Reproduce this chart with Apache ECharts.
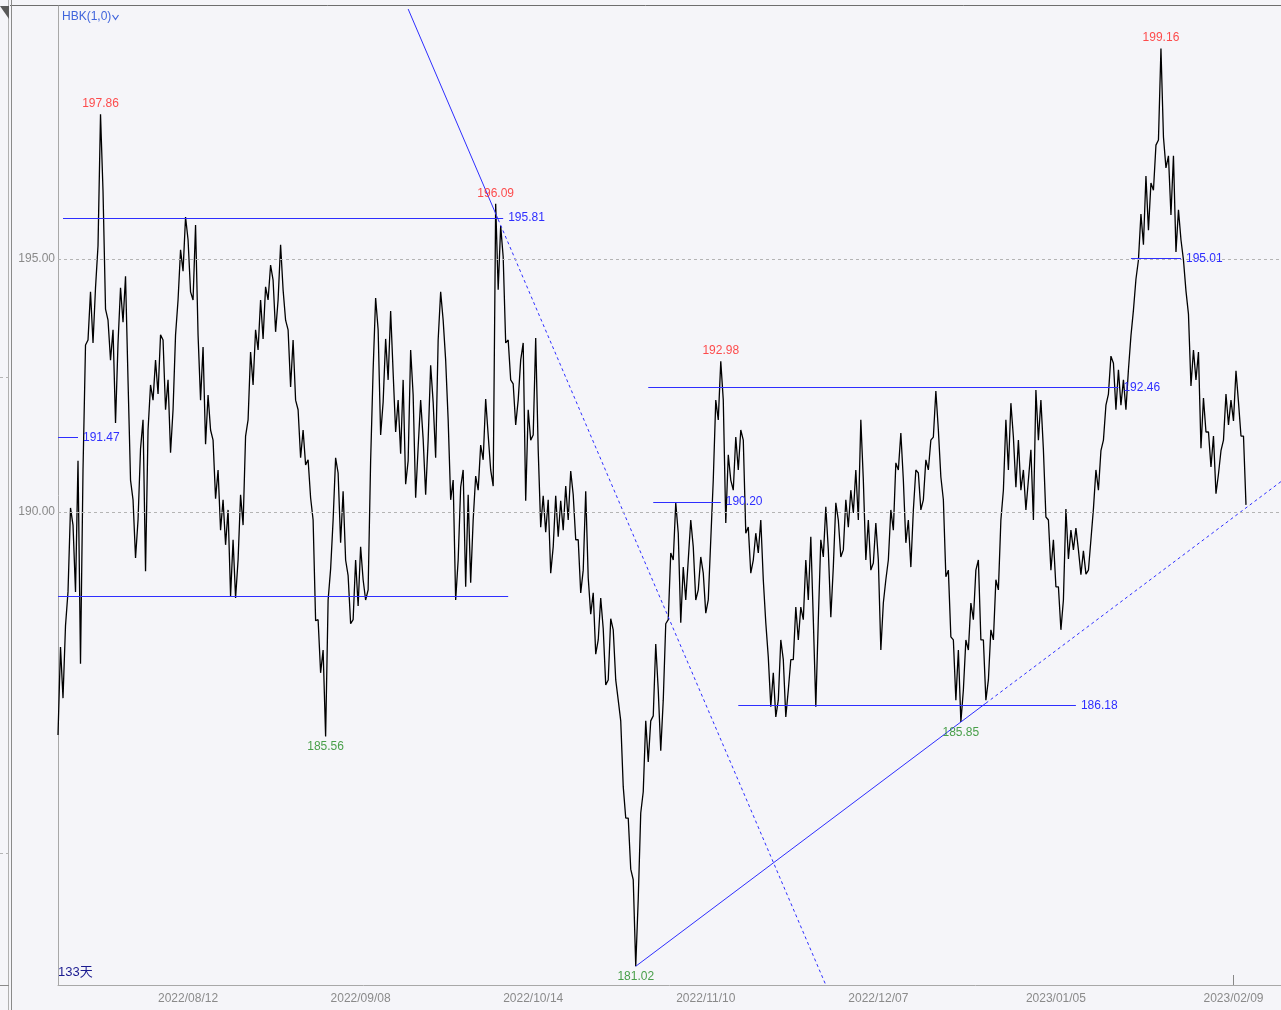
<!DOCTYPE html>
<html>
<head>
<meta charset="utf-8">
<script src="https://cdn.jsdelivr.net/npm/echarts@6/dist/echarts.min.js"></script>
<style>
html,body{margin:0;padding:0;background:#f5f5f9;}
#c{width:1281px;height:1010px;}
</style>
</head>
<body>
<div id="c"></div>
<script>
// ---- data ----
// per-column high / low of the intraday price trace
const colHigh = [
187.33,187.75,190.08,189.74,191.01,193.30,194.35,194.43,197.86,196.34,
193.79,193.60,194.43,194.66,192.60,190.24,191.25,191.82,192.51,193.00,
193.50,193.40,192.61,193.50,195.18,195.83,195.38,195.67,193.50,193.26,
192.31,191.42,190.83,190.24,190.04,189.45,190.34,191.50,193.16,193.60,
194.19,194.45,194.88,194.58,195.28,194.39,193.60,193.40,192.02,191.62,
191.03,189.84,187.87,187.27,188.87,191.07,190.77,190.41,188.74,189.05,
189.31,188.66,191.01,194.23,193.60,193.42,193.97,192.75,192.21,192.61,
193.20,192.31,192.21,191.44,192.90,192.17,194.35,193.79,191.82,190.63,
190.49,190.83,190.34,190.71,191.32,192.23,191.52,196.09,195.65,195.04,
193.40,192.53,193.00,193.34,192.02,193.44,191.23,190.32,190.24,190.32,
190.22,190.51,190.81,190.34,189.45,190.41,188.70,188.40,188.30,187.69,
187.89,187.67,186.28,184.57,183.95,182.73,184.05,185.87,185.87,187.39,
186.48,187.79,189.19,190.18,189.58,188.91,189.84,189.31,189.11,188.79,
189.45,192.21,192.98,192.21,191.13,191.48,191.62,191.42,189.70,189.58,
189.84,188.66,187.13,186.82,187.47,187.08,187.08,188.12,188.12,189.05,
189.51,187.87,189.45,190.10,189.25,190.18,189.84,190.24,190.43,190.83,
191.82,190.63,189.84,189.78,189.05,188.66,190.04,190.97,191.56,190.63,
189.84,190.83,190.77,191.03,191.42,192.39,191.62,190.24,188.85,187.47,
187.27,187.47,188.20,188.85,189.05,187.47,187.67,188.66,189.84,191.82,
192.15,191.48,191.42,190.83,191.23,192.41,192.21,191.23,189.84,189.45,
188.52,190.06,189.64,189.68,189.25,189.23,189.45,190.83,191.21,192.11,
193.08,192.94,192.81,192.61,193.48,194.60,195.89,196.64,196.50,197.25,
199.16,197.41,197.04,197.04,195.97,194.98,193.91,193.20,193.16,192.25,
191.58,191.50,191.21,192.33,192.21,192.79,192.17,191.50
];
const colLow = [
185.59,186.32,188.42,188.42,187.00,190.83,193.40,193.34,195.26,194.01,
193.00,191.76,193.34,193.75,190.63,189.09,189.84,188.83,191.62,192.21,
192.33,192.02,191.17,192.02,194.19,194.76,194.35,194.19,192.21,191.34,
191.62,190.26,189.64,189.35,188.34,188.30,189.05,189.74,191.82,192.51,
193.20,193.42,194.19,193.56,194.19,193.79,192.47,192.21,191.07,190.93,
190.28,187.85,186.82,185.56,188.26,189.84,189.39,189.05,187.79,187.87,
188.14,188.26,188.46,192.81,191.52,192.17,192.61,191.58,191.15,190.55,
191.01,190.28,191.28,190.34,191.42,191.07,193.40,193.00,190.24,188.26,
189.05,188.52,188.60,189.84,190.43,191.03,190.83,190.51,194.39,193.34,
192.61,191.72,192.21,190.22,191.42,191.52,189.70,189.60,188.79,189.31,
189.51,189.64,189.84,189.45,188.40,188.85,187.98,187.19,187.47,186.58,
186.68,186.68,185.87,183.95,182.94,181.02,182.35,184.47,185.06,185.97,
185.28,186.28,187.87,189.05,187.81,188.26,189.05,188.26,188.46,188.00,
188.26,190.63,191.82,189.78,190.63,190.43,190.83,189.58,188.79,189.05,
189.19,187.81,186.15,185.95,186.28,185.95,186.48,187.08,187.47,187.87,
188.26,186.15,187.87,189.11,187.92,188.91,189.11,189.25,189.70,189.98,
189.84,189.05,188.85,188.99,187.27,188.20,189.05,189.64,190.83,189.39,
188.91,190.04,190.04,190.24,190.83,191.48,190.69,188.72,187.53,186.28,
185.85,186.48,187.27,187.87,187.47,186.28,186.68,187.47,188.46,190.43,
190.83,190.49,190.43,190.04,190.63,189.84,191.42,189.90,188.85,188.52,
187.67,188.26,189.07,189.25,188.76,188.77,188.85,190.06,190.43,191.42,
192.33,192.02,192.11,192.02,192.81,193.99,194.98,195.28,195.57,196.36,
197.35,196.80,195.87,195.14,195.38,194.37,192.49,192.61,191.26,191.58,
190.89,190.36,190.75,191.42,191.72,191.80,191.50,190.14
];
const SLOTS = 490;
const tickIndex = [52, 121, 190, 259, 328, 399, 470];
const tickLabels = ['2022/08/12','2022/09/08','2022/10/14','2022/11/10','2022/12/07','2023/01/05','2023/02/09'];
const yLabelValues = [190, 195];
const highMarks = [197.86, 196.09, 192.98, 199.16];
const lowMarks = [185.56, 181.02, 185.85];
// horizontal level lines: value, start index, end index, labelled?
const levelValues = [195.81, 188.33, 191.47, 192.46, 190.20, 186.18, 195.01];
const levelFrom   = [2, 0, 0, 236, 238, 272, 429];
const levelTo     = [178, 180, 8, 424, 265, 407, 449];
const levelLabel  = [true, false, true, true, true, true, true];
// trend lines: [index, value]
const downStart = [140, 199.94], downEnd = [307, 180.65], downSolidTo = 176;
const upStart = [231, 181.02], upBreak = [371, 186.22], upEnd = [489, 190.60];

// ---- build ----
const categories = new Array(SLOTS).fill('');
tickIndex.forEach((i, n) => categories[i] = tickLabels[n]);

const zig = [];
let prevMid = null;
for (let k = 0; k < colHigh.length; k++) {
  const h = colHigh[k], l = colLow[k], m = (h + l) / 2;
  if (prevMid === null || m >= prevMid) zig.push(l, h); else zig.push(h, l);
  prevMid = m;
}

const FONT = "'Liberation Sans','Arial','Noto Sans CJK SC',sans-serif";
const FS = 12;
const BLUE = '#2e2eff';
const BLUE_TXT = '#2e2eff';

function lerp(a, b, x) { return a[1] + (b[1] - a[1]) * (x - a[0]) / (b[0] - a[0]); }
const downMid = [downSolidTo, lerp(downStart, downEnd, downSolidTo)];

const gridMarks = yLabelValues.map(v => ({
  yAxis: v, lineStyle: { type: [3, 3], color: '#b4b4b4', width: 1 }, label: { show: false }
}));
const levelMarks = levelValues.map((v, i) => ([
  { coord: [levelFrom[i], v], lineStyle: { color: BLUE, width: 1, type: 'solid' },
    label: { show: levelLabel[i], position: 'end', distance: 5, formatter: v.toFixed(2),
      color: BLUE_TXT, fontFamily: FONT, fontSize: FS } },
  { coord: [levelTo[i], v] }
]));

const series = [{
  type: 'line', data: zig, showSymbol: false, symbol: 'none', color: '#000',
  lineStyle: { color: '#000', width: 1.3 }, z: 2,
  markLine: {
    silent: true, symbol: 'none', animation: false, z: 4,
    data: gridMarks.concat(levelMarks)
  }
}];

[[downStart, downMid, 'solid'], [downMid, downEnd, [3, 3]],
 [upStart, upBreak, 'solid'], [upBreak, upEnd, [3, 3]]].forEach(s => {
  series.push({ type: 'line', data: [s[0], s[1]], symbol: 'none', z: 3,
    color: BLUE, lineStyle: { color: BLUE, width: 1, type: s[2] } });
});

series.push({
  type: 'scatter', symbolSize: 1, itemStyle: { color: 'rgba(0,0,0,0)' }, z: 5,
  data: highMarks.map(v => [zig.indexOf(v), v]),
  label: { show: true, position: 'top', distance: 4, color: '#ff2020',
    fontFamily: FONT, fontSize: FS, formatter: p => p.value[1].toFixed(2) }
});
series.push({
  type: 'scatter', symbolSize: 1, itemStyle: { color: 'rgba(0,0,0,0)' }, z: 5,
  data: lowMarks.map(v => [zig.indexOf(v), v]),
  label: { show: true, position: 'bottom', distance: 4, color: '#1e8a1e',
    fontFamily: FONT, fontSize: FS, formatter: p => p.value[1].toFixed(2) }
});

const chart = echarts.init(document.getElementById('c'), null, { renderer: 'canvas' });
chart.setOption({
  backgroundColor: '#f5f5f9',
  animation: false,
  grid: { left: 58, right: 0, top: 6, bottom: 25, containLabel: false },
  xAxis: {
    type: 'category', data: categories, boundaryGap: false,
    axisLine: { lineStyle: { color: '#a8a8a8', width: 1 } },
    axisTick: { show: true, inside: true, length: 10, interval: (i) => i === tickIndex[tickIndex.length - 1],
      lineStyle: { color: '#888' } },
    axisLabel: { interval: (i, v) => v !== '', color: '#8a8a8a', fontFamily: FONT, fontSize: FS, margin: 8 },
    splitLine: { show: false }
  },
  yAxis: {
    type: 'value', min: 180.65, max: 200.0, position: 'left',
    axisLine: { show: true, lineStyle: { color: '#a8a8a8', width: 1 } },
    axisTick: { show: false },
    splitLine: { show: false },
    axisLabel: { customValues: yLabelValues, formatter: v => v.toFixed(2), color: '#8a8a8a',
      fontFamily: FONT, fontSize: FS, margin: 3 }
  },
  graphic: [
    { type: 'line', shape: { x1: 10, y1: 5.5, x2: 1281, y2: 5.5 }, style: { stroke: '#6e6e6e', lineWidth: 1 } },
    { type: 'line', shape: { x1: 8.5, y1: 0, x2: 8.5, y2: 1010 }, style: { stroke: '#b0b0b0', lineWidth: 1 } },
    { type: 'line', shape: { x1: 11.5, y1: 0, x2: 11.5, y2: 1010 }, style: { stroke: '#8a8a8a', lineWidth: 1 } },
    { type: 'line', shape: { x1: 0, y1: 985.5, x2: 9, y2: 985.5 }, style: { stroke: '#8a8a8a', lineWidth: 1 } },
    { type: 'line', shape: { x1: 0, y1: 377.5, x2: 9, y2: 377.5 }, style: { stroke: '#b4b4b4', lineWidth: 1, lineDash: [3, 3] } },
    { type: 'line', shape: { x1: 0, y1: 853.5, x2: 9, y2: 853.5 }, style: { stroke: '#b4b4b4', lineWidth: 1, lineDash: [3, 3] } },
    { type: 'polygon', shape: { points: [[0, 6], [9, 6], [9, 19]] }, style: { fill: '#5a5a5a' } },
    { type: 'text', left: 62, top: 11, style: { text: 'HBK(1,0)', fill: '#3f64dc', font: "12px " + FONT } },
    { type: 'polyline', shape: { points: [[112.5, 15], [115.5, 19.5], [118.5, 15]] }, style: { stroke: '#3f64dc', lineWidth: 1.2, fill: null } },
    { type: 'text', left: 58, top: 966, style: { text: '133天', fill: '#1a1a90', font: "13px " + FONT } }
  ],
  series: series
});
</script>
</body>
</html>
